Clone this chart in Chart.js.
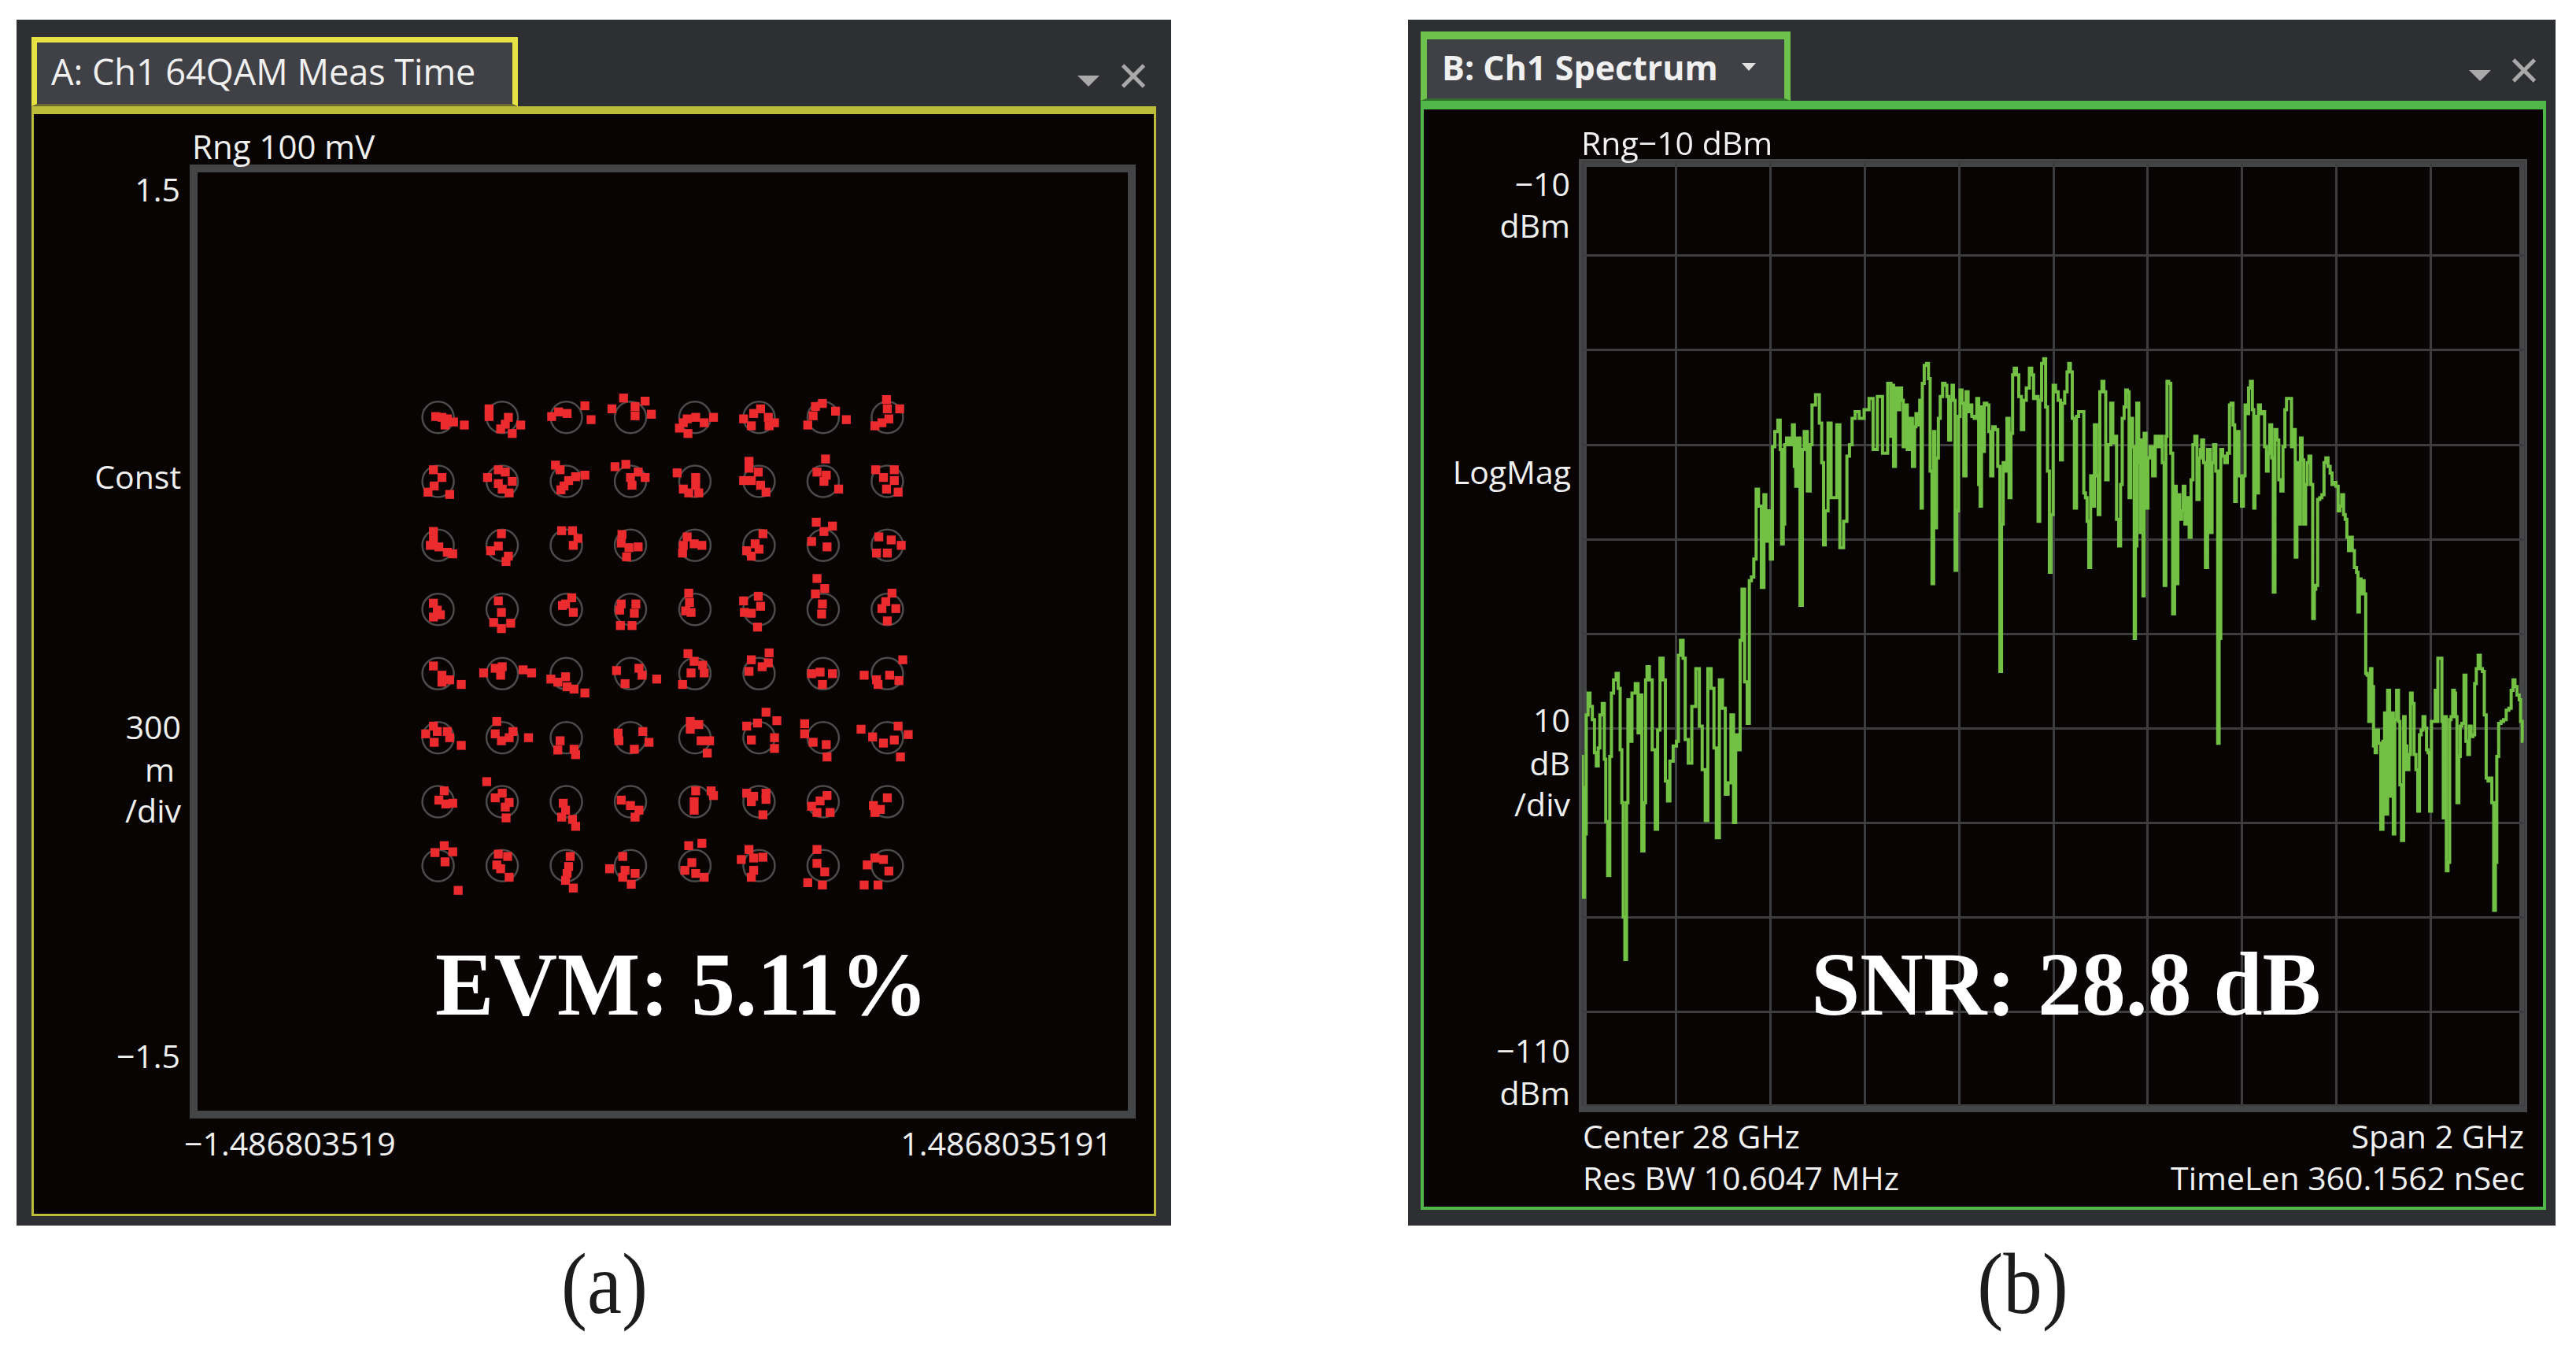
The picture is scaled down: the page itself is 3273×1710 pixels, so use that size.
<!DOCTYPE html>
<html>
<head>
<meta charset="utf-8">
<script src="https://cdn.jsdelivr.net/npm/chart.js@4.4.1/dist/chart.umd.min.js"></script>
<style>
html, body { margin: 0; padding: 0; background: #fff; }
body { width: 3273px; height: 1710px; position: relative; overflow: hidden; }
.abs { position: absolute; box-sizing: border-box; }
.moldura { background: #2e2f33; }
.t { position: absolute; font-family: 'Open Sans', sans-serif; font-size: 41px; color: #f0f0f0; line-height: 1; white-space: nowrap; }
.l { transform: translate(0, -50%); }
.r { transform: translate(-100%, -50%); }
.grande { position: absolute; font-family: 'Liberation Serif', serif; font-weight: bold; font-size: 115px; color: #fff; line-height: 1; white-space: nowrap; transform: translate(-50%, -50%) scaleX(0.97); }
.legenda { position: absolute; font-family: 'Liberation Serif', serif; font-size: 110px; color: #1c1c1c; line-height: 1; white-space: nowrap; transform: translate(-50%, -50%) scaleX(0.9); }
.tri { position: absolute; width: 0; height: 0; border-left: 14px solid transparent; border-right: 14px solid transparent; border-top: 14px solid #a9a9a9; }
.xbar { position: absolute; width: 38px; height: 5px; background: #a9a9a9; }
canvas { position: absolute; }
</style>
</head>
<body>

<!-- Painel A: constelação -->
<div class="abs moldura" style="left:21px;top:25px;width:1467px;height:1532px"></div>
<div class="abs" style="left:40px;top:135px;width:1429px;height:1410px;background:#070403;border:3px solid #bcbb3a;border-top:10px solid #bcbb3a"></div>
<div class="abs" style="left:40px;top:47px;width:618px;height:88px;background:#404146;border:7px solid #e6e244;border-bottom:3px solid #6a6a30"></div>
<div class="t l" style="left:65px;top:90px;font-size:45px">A: Ch1 64QAM Meas Time</div>
<div class="tri" style="left:1369px;top:96px"></div>
<div class="xbar" style="left:1421px;top:94px;transform:rotate(45deg)"></div>
<div class="xbar" style="left:1421px;top:94px;transform:rotate(-45deg)"></div>

<div class="abs" style="left:241px;top:209px;width:1202px;height:1212px;border:10px solid #444547;background:#070403"></div>
<canvas id="graficoConstelacao" width="1182" height="1190" style="left:251px;top:220px;width:1182px;height:1190px"></canvas>

<div class="t l" style="left:244px;top:186px;font-size:42px">Rng 100 mV</div>
<div class="t r" style="left:229px;top:240px">1.5</div>
<div class="t r" style="left:230px;top:605px">Const</div>
<div class="t r" style="left:230px;top:923px">300</div>
<div class="t r" style="left:222px;top:977px">m</div>
<div class="t r" style="left:230px;top:1029px">/div</div>
<div class="t r" style="left:229px;top:1341px">−1.5</div>
<div class="t l" style="left:234px;top:1452px">−1.486803519</div>
<div class="t r" style="left:1413px;top:1452px">1.4868035191</div>
<div class="grande" style="left:866px;top:1250px">EVM: 5.11%</div>
<div class="legenda" style="left:768px;top:1631px">(a)</div>

<!-- Painel B: espectro -->
<div class="abs moldura" style="left:1789px;top:25px;width:1458px;height:1532px"></div>
<div class="abs" style="left:1805px;top:128px;width:1430px;height:1409px;background:#070403;border:4px solid #50b848;border-top:11px solid #50b848"></div>
<div class="abs" style="left:1805px;top:40px;width:470px;height:88px;background:#404146;border:8px solid #6cc24a;border-top:10px solid #6cc24a;border-bottom:3px solid #2f6e2a"></div>
<div class="t l" style="left:1832px;top:85px;font-weight:bold;font-size:43px">B: Ch1 Spectrum</div>
<div class="tri" style="left:2213px;top:80px;border-left-width:9px;border-right-width:9px;border-top:10px solid #e0e0e0"></div>
<div class="tri" style="left:3137px;top:89px"></div>
<div class="xbar" style="left:3188px;top:87px;transform:rotate(45deg)"></div>
<div class="xbar" style="left:3188px;top:87px;transform:rotate(-45deg)"></div>

<div class="abs" style="left:2006px;top:202px;width:1205px;height:1211px;border:10px solid #444547;background:#070403"></div>
<canvas id="graficoEspectro" width="1198" height="1200" style="left:2010px;top:205px;width:1198px;height:1200px"></canvas>

<div class="t l" style="left:2009px;top:181px">Rng−10 dBm</div>
<div class="t r" style="left:1995px;top:233px">−10</div>
<div class="t r" style="left:1995px;top:286px">dBm</div>
<div class="t r" style="left:1996px;top:599px">LogMag</div>
<div class="t r" style="left:1995px;top:914px">10</div>
<div class="t r" style="left:1995px;top:969px">dB</div>
<div class="t r" style="left:1995px;top:1021px">/div</div>
<div class="t r" style="left:1995px;top:1334px">−110</div>
<div class="t r" style="left:1995px;top:1388px">dBm</div>
<div class="t l" style="left:2011px;top:1443px">Center 28 GHz</div>
<div class="t r" style="left:3207px;top:1443px">Span 2 GHz</div>
<div class="t l" style="left:2011px;top:1496px">Res BW 10.6047 MHz</div>
<div class="t r" style="left:3208px;top:1496px">TimeLen 360.1562 nSec</div>
<div class="grande" style="left:2625px;top:1250px">SNR: 28.8 dB</div>
<div class="legenda" style="left:2570px;top:1631px">(b)</div>

<script>
// Níveis ideais do 64QAM (I e Q), em volts
const niveisIQ = [-0.718, -0.513, -0.308, -0.103, 0.103, 0.308, 0.513, 0.718];

// Erro de cada amostra recebida, em passos de 0.0247 V: [dI, dQ para baixo]
const passoErro = 0.0247;
const errosSimbolos = [
    // linha 1 (Q = 0.718)
    [[-0.3,-0.1],[0.5,0],[1.2,0.2],[2,0.6],[0.9,1],[3.4,1]],
    [[-1.7,-1.1],[-1.7,-0.1],[0.8,0],[0.4,0.9],[-0.2,1.5],[2.4,1],[1.3,2.1]],
    [[-1.9,-0.1],[-1,-0.7],[0.1,-0.5],[2.4,-1.5],[3.2,0.3]],
    [[-0.9,-2.5],[-2.4,-1.1],[0.6,-1.4],[1.9,-2.1],[0.6,-0.2],[2.7,-0.4]],
    [[-2,1.4],[-0.9,2.1],[-1,0.2],[0.1,0],[1.2,0.7],[2.4,0],[-1.5,0.7]],
    [[0.2,-1.1],[-0.7,-0.5],[-2,0.2],[-1,1.1],[1.2,0],[2,0.7],[1.3,1.1]],
    [[-0.1,-1.8],[-1,-1.4],[-1.3,-0.2],[-2,1],[1.6,-0.8],[3,0.3]],
    [[-0.1,-2.3],[0,-1.1],[1.6,-1.1],[0.2,0.2],[-1.6,1.1],[-0.7,0.7]],
    // linha 2
    [[-0.6,-1.5],[0.5,-0.5],[-0.5,0.6],[-1.3,1.4],[1.5,1.7]],
    [[-0.5,-1.5],[0.4,-1.2],[-1.9,-0.5],[-0.5,0.3],[1.3,0],[0,1],[0.9,1.5]],
    [[-1.4,-2.1],[-0.8,-1.5],[1.2,-0.6],[2.4,-0.8],[0.3,-0.1],[-0.3,0.6],[-0.7,1.1]],
    [[-2,-1.9],[-0.6,-2.2],[1,-1.2],[1.9,-0.5],[0,-0.5],[0.2,0.5]],
    [[-2.3,-1.1],[0.1,-0.5],[0.1,0.5],[-1.5,1],[-0.8,1.5],[0.5,1.5]],
    [[-1.3,-2.6],[-1.3,-1.7],[-0.1,-1.2],[-2,-0.1],[-1,-0.1],[0.2,0.5],[0.9,1.4]],
    [[0.3,-2.9],[-0.8,-1.2],[0.4,-0.8],[0.1,0],[2,1]],
    [[-1.5,-1.5],[-0.5,-0.5],[0.9,-1.5],[0.9,-0.1],[-0.1,1],[1.4,1.4]],
    // linha 3
    [[-0.6,-1.8],[-0.6,-0.7],[0.1,0.2],[1.2,0.9],[1.9,1.1],[-1,0]],
    [[-0.1,-1.5],[-0.5,0.1],[-1.5,0.7],[0.8,1.4],[0.5,2.1]],
    [[-0.6,-1.9],[0.8,-1.9],[1.5,-0.9],[0.9,0]],
    [[-1.1,-1.4],[-1.2,-0.3],[-0.2,0.3],[1,0.2],[-0.5,1.5]],
    [[-1,-1.1],[-1.5,0],[-0.1,-0.2],[0.9,0],[-1.6,1]],
    [[0.5,-1.5],[-0.5,-0.2],[0,0.5],[-1.6,0.7],[-1,1.4]],
    [[-0.9,-3],[1.2,-2.5],[0.1,-1.8],[-1.5,-0.5],[0.5,0.2]],
    [[-1.1,-1.1],[0.5,-0.7],[1.8,0],[-1.4,1],[0,1]],
    // linha 4
    [[-0.6,-0.8],[-0.1,0.1],[0.3,0.7],[-0.6,1]],
    [[-0.5,-1.1],[-0.1,0.4],[-1.1,1.7],[-0.1,2.5],[1.1,1.8]],
    [[-0.5,-0.5],[0.7,-1.5],[0.9,0.4],[-0.1,-0.7]],
    [[-1.2,-0.7],[0.7,-0.7],[-1.4,0.1],[0.5,0.5],[-1.3,2.1],[0.2,2.1]],
    [[-0.8,-2.1],[-0.7,-0.9],[-1.2,0.2],[-0.5,0.4]],
    [[-2,-1.1],[-0.1,-1.7],[0.2,-0.4],[-1.9,0.4],[-1,0.5],[-0.2,2.3]],
    [[-0.8,-4],[0.2,-2.7],[-1,-2],[-0.1,-0.7],[-0.2,0.6]],
    [[0.6,-2.1],[-0.2,-1],[1.1,-0.1],[-0.7,-0.1],[0,1.5]],
    // linha 5
    [[-0.6,-1],[0.5,0.2],[1.5,0.8],[0.5,1.1],[3,1.4]],
    [[-2.4,-0.1],[-0.9,-0.7],[0,-0.9],[-0.2,0.2],[2.7,-0.5],[3.8,-0.1]],
    [[-2,0.7],[-1.1,1.1],[-0.1,0.4],[0.1,1.7],[1,2],[2.4,2.5]],
    [[-1.8,-0.4],[-0.7,1.3],[1.1,-0.7],[1.5,0.2],[3.4,0.7]],
    [[-0.9,-2.6],[-0.1,-1.6],[1,-1.1],[-0.5,-0.1],[1.2,-0.1],[-1.6,1.4]],
    [[1.3,-2.7],[1.2,-1.4],[-1,-1.8],[-1.3,-0.3],[0.4,-0.9]],
    [[-1.5,0],[-0.4,-0.2],[1.2,0],[-0.1,1.4]],
    [[-3,0.2],[-1.4,0.8],[-1.2,1.4],[0.3,0.2],[1.5,0.9],[2,-1.8]],
    // linha 6
    [[-0.6,-1.5],[-1.6,-0.5],[-0.1,-0.8],[1.2,-0.8],[1.5,0],[-0.5,0.6],[3,1]],
    [[-0.7,-2.1],[-0.9,-0.5],[1.4,-0.8],[0.9,0],[-0.1,0.4],[3.4,0]],
    [[-0.8,0.4],[-1.1,1.6],[1,1.5],[1.2,2.2]],
    [[-1.6,-0.6],[-1.5,0.4],[1.6,-0.8],[2.4,0.6],[0.5,1.5]],
    [[-0.6,-2.1],[0.5,-1.7],[-0.6,-1.1],[0.8,0.4],[1.9,0.4],[1.6,2]],
    [[0.9,-3.3],[2.3,-2.2],[-1.6,-1.5],[-0.2,-1.9],[-1,0.3],[2,0],[2,1.4]],
    [[-2.4,-1.8],[-2.4,-0.5],[-1.3,0.6],[0.4,0.9],[0.5,2.5]],
    [[-3.4,-1.1],[1.4,-1.5],[2.7,-0.4],[-1.9,-0.1],[-0.5,0.7],[0.9,0.3],[1.7,2.5]],
    // linha 7
    [[0.8,-1.4],[0.1,-0.2],[1.9,0.2],[1,0.3]],
    [[-2,-2.6],[0,-1.1],[-0.9,-0.5],[0.9,0.1],[0.4,0.7],[0.5,2.1]],
    [[-0.4,0.2],[-0.1,1.1],[-0.6,2],[0.8,2.3],[1.2,3.2]],
    [[-1.2,-0.2],[0,0.5],[1.1,1.1],[0.6,2]],
    [[0.1,-1.4],[-0.1,0],[-0.1,1.1],[2.1,-1.4],[2.4,-0.8]],
    [[-1.6,-1.1],[-0.7,-0.7],[0.9,-1.1],[-1,0],[0.9,-0.3],[0.5,1.7]],
    [[0.5,-0.8],[-0.4,-0.1],[-1.5,0.6],[0.9,1.4],[-0.8,1.4]],
    [[0,-0.5],[-1.8,0.5],[-0.9,1],[-1.6,1.4]],
    // linha 8 (Q = -0.718)
    [[0.8,-2.6],[-0.4,-1.7],[1.9,-1.8],[0.9,-0.5],[2.6,3.2]],
    [[-0.5,-1.5],[0.7,-1.2],[-0.7,-0.1],[-0.2,0.4],[0.9,1.5]],
    [[0.5,-1.2],[0.3,0.1],[0.1,1],[-0.1,1.9],[0.9,2.9]],
    [[-1,-1.2],[-2.7,0.4],[-0.7,0.6],[0.6,1],[-1,1.5],[0.1,2.4]],
    [[-0.8,-2.6],[0.9,-2.9],[-0.4,-0.4],[-1.3,0.6],[0.1,1],[1.2,1.5]],
    [[-1.3,-2.1],[-2.3,-0.8],[-0.7,-1],[0.5,-1.1],[-0.7,0.6],[-1,1.5]],
    [[-0.8,-2.1],[-0.8,-0.3],[0.2,0.8],[-2,2.2],[-0.1,2.5]],
    [[-1.6,-1],[-0.5,-0.8],[-2.6,-0.1],[0.2,0.7],[-3,2.5],[-1.2,2.5]]
];

// Traço do espectro: frequência (GHz) e nível (dBm)
const freqGHz = [
    27.000,27.002,27.004,27.007,27.011,27.015,27.019,27.025,27.028,27.033,
    27.036,27.040,27.046,27.049,27.052,27.057,27.061,27.064,27.070,27.075,
    27.079,27.083,27.086,27.089,27.093,27.096,27.099,27.103,27.109,27.117,
    27.121,27.125,27.129,27.134,27.136,27.140,27.146,27.152,27.159,27.162,
    27.169,27.175,27.179,27.184,27.189,27.198,27.203,27.206,27.212,27.217,
    27.221,27.230,27.236,27.247,27.251,27.259,27.264,27.270,27.278,27.282,
    27.288,27.295,27.301,27.307,27.313,27.319,27.324,27.328,27.334,27.337,
    27.342,27.348,27.353,27.357,27.362,27.367,27.372,27.377,27.384,27.388,
    27.392,27.397,27.402,27.406,27.412,27.419,27.422,27.425,27.429,27.431,
    27.437,27.444,27.449,27.452,27.455,27.459,27.466,27.469,27.474,27.482,
    27.486,27.490,27.501,27.506,27.511,27.514,27.518,27.526,27.531,27.538,
    27.543,27.551,27.559,27.565,27.570,27.576,27.583,27.593,27.604,27.614,
    27.621,27.632,27.643,27.654,27.657,27.660,27.662,27.668,27.672,27.676,
    27.680,27.683,27.687,27.693,27.698,27.704,27.707,27.710,27.715,27.718,
    27.721,27.723,27.729,27.733,27.737,27.740,27.745,27.747,27.750,27.754,
    27.758,27.762,27.768,27.772,27.776,27.780,27.784,27.786,27.790,27.793,
    27.797,27.800,27.804,27.808,27.812,27.817,27.821,27.825,27.829,27.835,
    27.840,27.843,27.846,27.849,27.851,27.856,27.861,27.865,27.869,27.874,
    27.879,27.885,27.888,27.892,27.895,27.899,27.904,27.908,27.912,27.915,
    27.919,27.924,27.929,27.935,27.939,27.946,27.952,27.956,27.960,27.966,
    27.969,27.973,27.977,27.982,27.985,27.990,27.993,27.997,28.002,28.007,
    28.013,28.017,28.021,28.027,28.031,28.034,28.038,28.042,28.047,28.051,
    28.056,28.063,28.066,28.070,28.073,28.077,28.081,28.085,28.089,28.094,
    28.096,28.101,28.105,28.109,28.113,28.119,28.124,28.128,28.132,28.136,
    28.141,28.144,28.148,28.152,28.155,28.159,28.162,28.166,28.170,28.173,
    28.175,28.179,28.183,28.185,28.189,28.191,28.194,28.199,28.202,28.208,
    28.213,28.219,28.224,28.229,28.233,28.237,28.240,28.242,28.247,28.251,
    28.255,28.259,28.262,28.266,28.270,28.274,28.277,28.281,28.286,28.290,
    28.294,28.298,28.302,28.307,28.311,28.313,28.316,28.321,28.324,28.330,
    28.335,28.338,28.342,28.347,28.350,28.353,28.357,28.361,28.366,28.372,
    28.375,28.379,28.383,28.386,28.390,28.397,28.401,28.405,28.408,28.412,
    28.416,28.420,28.424,28.426,28.429,28.433,28.437,28.441,28.446,28.450,
    28.454,28.457,28.461,28.465,28.468,28.472,28.476,28.480,28.485,28.489,
    28.493,28.496,28.503,28.507,28.511,28.515,28.518,28.522,28.526,28.529,
    28.533,28.537,28.540,28.544,28.548,28.552,28.555,28.558,28.563,28.567,
    28.572,28.576,28.580,28.585,28.589,28.593,28.597,28.602,28.606,28.609,
    28.614,28.617,28.621,28.624,28.628,28.632,28.636,28.641,28.645,28.647,
    28.651,28.654,28.657,28.661,28.664,28.667,28.671,28.674,28.677,28.681,
    28.684,28.687,28.692,28.697,28.701,28.704,28.707,28.711,28.715,28.720,
    28.722,28.726,28.730,28.734,28.736,28.741,28.745,28.747,28.752,28.756,
    28.759,28.763,28.767,28.771,28.775,28.778,28.782,28.786,28.790,28.793,
    28.796,28.800,28.804,28.809,28.811,28.814,28.817,28.823,28.825,28.829,
    28.832,28.835,28.839,28.842,28.845,28.849,28.852,28.854,28.858,28.862,
    28.864,28.869,28.873,28.877,28.881,28.884,28.888,28.892,28.895,28.899,
    28.903,28.908,28.912,28.916,28.920,28.924,28.928,28.932,28.936,28.939,
    28.942,28.947,28.952,28.958,28.963,28.969,28.973,28.977,28.981,28.986,
    28.990,28.992,28.997
];
const nivelDbm = [
    -73.0,-76.3,-87.9,-81.2,-68.6,-66.3,-67.7,-69.1,-72.6,-74.0,
    -72.1,-68.6,-67.4,-73.3,-79.9,-85.6,-73.0,-66.3,-64.9,-64.2,
    -65.8,-72.3,-77.9,-90.0,-94.5,-77.9,-67.0,-71.4,-66.3,-65.3,
    -70.5,-66.5,-83.0,-77.9,-64.9,-63.5,-64.9,-72.3,-80.7,-70.2,
    -62.6,-64.9,-75.6,-77.7,-73.5,-71.9,-71.4,-62.3,-60.7,-62.6,
    -71.2,-73.7,-67.7,-63.7,-69.8,-74.4,-79.8,-63.7,-65.8,-72.1,
    -81.6,-64.9,-67.9,-77.0,-75.8,-68.6,-80.0,-70.7,-72.3,-60.7,
    -55.3,-65.1,-69.5,-54.4,-54.0,-52.1,-44.7,-46.5,-55.1,-45.3,
    -50.2,-47.0,-52.1,-40.2,-38.6,-37.4,-40.5,-50.5,-48.4,-40.0,
    -39.3,-40.0,-37.9,-42.3,-44.4,-39.3,-57.0,-40.5,-38.6,-44.9,
    -40.0,-35.8,-34.7,-37.7,-41.9,-50.6,-47.0,-37.7,-45.6,-45.6,
    -37.9,-50.9,-48.1,-41.2,-40.0,-37.2,-36.5,-37.2,-36.3,-35.1,
    -40.5,-34.9,-40.9,-33.5,-39.1,-33.7,-42.3,-34.0,-36.3,-34.0,
    -35.3,-40.2,-35.8,-40.5,-37.2,-42.3,-38.1,-36.7,-37.9,-35.3,
    -46.7,-33.5,-31.6,-31.4,-33.0,-42.8,-54.7,-38.6,-48.8,-41.4,
    -37.2,-34.9,-33.5,-33.7,-34.9,-39.5,-35.3,-33.7,-35.3,-53.3,
    -47.0,-37.0,-34.2,-35.6,-43.3,-34.4,-36.5,-35.8,-37.0,-37.2,
    -35.1,-44.2,-46.5,-36.0,-40.7,-35.6,-35.8,-38.6,-43.3,-38.1,
    -38.4,-42.3,-64.0,-48.4,-41.9,-42.8,-37.2,-45.6,-38.8,-32.6,
    -31.9,-32.6,-34.9,-38.4,-35.3,-34.0,-31.9,-32.6,-35.1,-34.9,
    -48.1,-35.3,-31.4,-30.9,-36.0,-42.8,-53.5,-47.4,-33.7,-34.4,
    -35.3,-41.6,-35.6,-34.4,-32.3,-31.4,-32.3,-37.2,-46.7,-37.0,
    -36.5,-36.5,-45.1,-45.6,-48.1,-53.0,-43.3,-46.5,-37.9,-43.3,
    -47.4,-34.4,-33.3,-34.4,-43.7,-40.0,-35.6,-39.8,-39.1,-47.9,
    -50.7,-44.2,-37.2,-36.0,-34.2,-34.4,-45.6,-37.2,-40.2,-60.5,
    -50.7,-35.6,-41.9,-49.3,-39.5,-56.0,-38.8,-46.7,-41.4,-40.2,
    -43.3,-39.1,-40.2,-39.1,-41.9,-54.9,-39.1,-33.3,-33.5,-40.9,
    -57.9,-44.4,-54.7,-45.3,-47.9,-47.0,-44.4,-48.4,-45.6,-49.8,
    -43.7,-40.0,-39.1,-45.8,-41.4,-40.5,-39.5,-41.9,-53.0,-40.5,
    -49.3,-41.9,-40.0,-42.8,-71.6,-60.5,-40.5,-41.2,-41.9,-40.9,
    -35.8,-35.6,-37.9,-46.0,-38.6,-43.3,-46.5,-43.3,-35.8,-36.7,
    -34.0,-33.3,-36.3,-46.7,-37.0,-45.1,-35.8,-36.7,-36.5,-40.2,
    -42.8,-40.9,-37.9,-41.4,-55.6,-38.4,-39.5,-43.7,-44.9,-40.2,
    -36.3,-35.1,-35.1,-40.2,-38.4,-51.9,-41.9,-48.4,-39.3,-41.6,
    -48.4,-44.2,-41.9,-41.2,-44.2,-58.4,-55.3,-54.9,-45.8,-45.6,
    -45.3,-41.9,-41.4,-42.3,-43.0,-44.2,-44.0,-44.4,-47.0,-46.5,
    -45.3,-47.4,-47.9,-49.8,-51.2,-49.8,-51.2,-53.0,-53.5,-57.7,
    -54.2,-55.8,-54.4,-55.8,-64.2,-64.4,-69.3,-63.7,-65.6,-71.9,
    -72.6,-70.2,-71.6,-80.7,-71.4,-68.4,-79.1,-66.0,-77.2,-68.4,
    -81.2,-69.1,-66.0,-69.3,-76.0,-81.9,-68.8,-71.9,-74.4,-72.8,
    -66.3,-67.4,-72.8,-74.4,-78.8,-70.7,-70.2,-68.8,-70.0,-72.3,
    -72.6,-78.8,-69.3,-69.3,-66.0,-69.3,-62.6,-62.6,-69.3,-79.5,
    -68.8,-85.1,-84.2,-69.1,-68.8,-66.0,-66.3,-68.8,-77.9,-73.0,
    -69.8,-69.5,-64.4,-71.4,-72.8,-69.8,-70.9,-70.7,-65.3,-63.7,
    -62.3,-63.7,-64.0,-68.6,-75.3,-75.6,-75.3,-77.9,-89.3,-84.2,
    -73.0,-69.5,-69.3,-69.1,-68.1,-67.9,-66.0,-64.9,-65.6,-66.5,
    -67.0,-69.3,-71.4
];

// Eixos dos dois gráficos
const limiteI = 1.4868035191;
const limiteQ = 1.5;
const freqInicio = 27;
const freqFim = 29;
const refDbm = -10;
const baseDbm = -110;

// Função para plotar a constelação 64QAM
function plotarConstelacao() {
    let ideais = [];
    let recebidos = [];

    for (let linha = 0; linha < 8; linha++) {
        for (let coluna = 0; coluna < 8; coluna++) {
            let i0 = niveisIQ[coluna];
            let q0 = niveisIQ[7 - linha];
            ideais.push({ x: i0, y: q0 });

            let erros = errosSimbolos[linha * 8 + coluna];
            for (let k = 0; k < erros.length; k++) {
                recebidos.push({ x: i0 + erros[k][0] * passoErro, y: q0 - erros[k][1] * passoErro });
            }
        }
    }

    const config = {
        type: 'scatter',
        data: {
            datasets: [{
                label: 'Recebidos',
                data: recebidos,
                pointStyle: 'rect',
                pointRadius: 8,
                pointHoverRadius: 8,
                backgroundColor: '#ec2b2f',
                borderWidth: 0,
                order: 0
            }, {
                label: 'Ideais',
                data: ideais,
                pointStyle: 'circle',
                pointRadius: 20,
                pointHoverRadius: 20,
                backgroundColor: 'rgba(0,0,0,0)',
                borderColor: '#4b4b4b',
                borderWidth: 2.5,
                order: 1
            }]
        },
        options: {
            responsive: false,
            animation: false,
            devicePixelRatio: 1,
            events: [],
            layout: { padding: 0, autoPadding: false },
            plugins: { legend: { display: false }, tooltip: { enabled: false } },
            scales: {
                x: { type: 'linear', min: -limiteI, max: limiteI, display: false },
                y: { type: 'linear', min: -limiteQ, max: limiteQ, display: false }
            }
        }
    };

    new Chart(document.getElementById('graficoConstelacao'), config);
}

// Função para plotar o espectro
function plotarEspectro() {
    let pontos = [];
    for (let i = 0; i < freqGHz.length; i++) {
        pontos.push({ x: freqGHz[i], y: nivelDbm[i] });
    }

    const grade = { color: '#3d3d3f', lineWidth: 3, drawTicks: false };

    const config = {
        type: 'line',
        data: {
            datasets: [{
                label: 'Ch1 Spectrum',
                data: pontos,
                borderColor: '#72c044',
                borderWidth: 4,
                pointRadius: 0,
                stepped: 'middle',
                fill: false
            }]
        },
        options: {
            responsive: false,
            animation: false,
            devicePixelRatio: 1,
            events: [],
            layout: { padding: 0, autoPadding: false },
            plugins: { legend: { display: false }, tooltip: { enabled: false } },
            scales: {
                x: {
                    type: 'linear', min: freqInicio, max: freqFim,
                    ticks: { display: false, stepSize: 0.2 },
                    grid: grade, border: { display: false }
                },
                y: {
                    type: 'linear', min: baseDbm, max: refDbm,
                    ticks: { display: false, stepSize: 10 },
                    grid: grade, border: { display: false }
                }
            }
        }
    };

    new Chart(document.getElementById('graficoEspectro'), config);
}

plotarConstelacao();
plotarEspectro();
</script>
</body>
</html>
